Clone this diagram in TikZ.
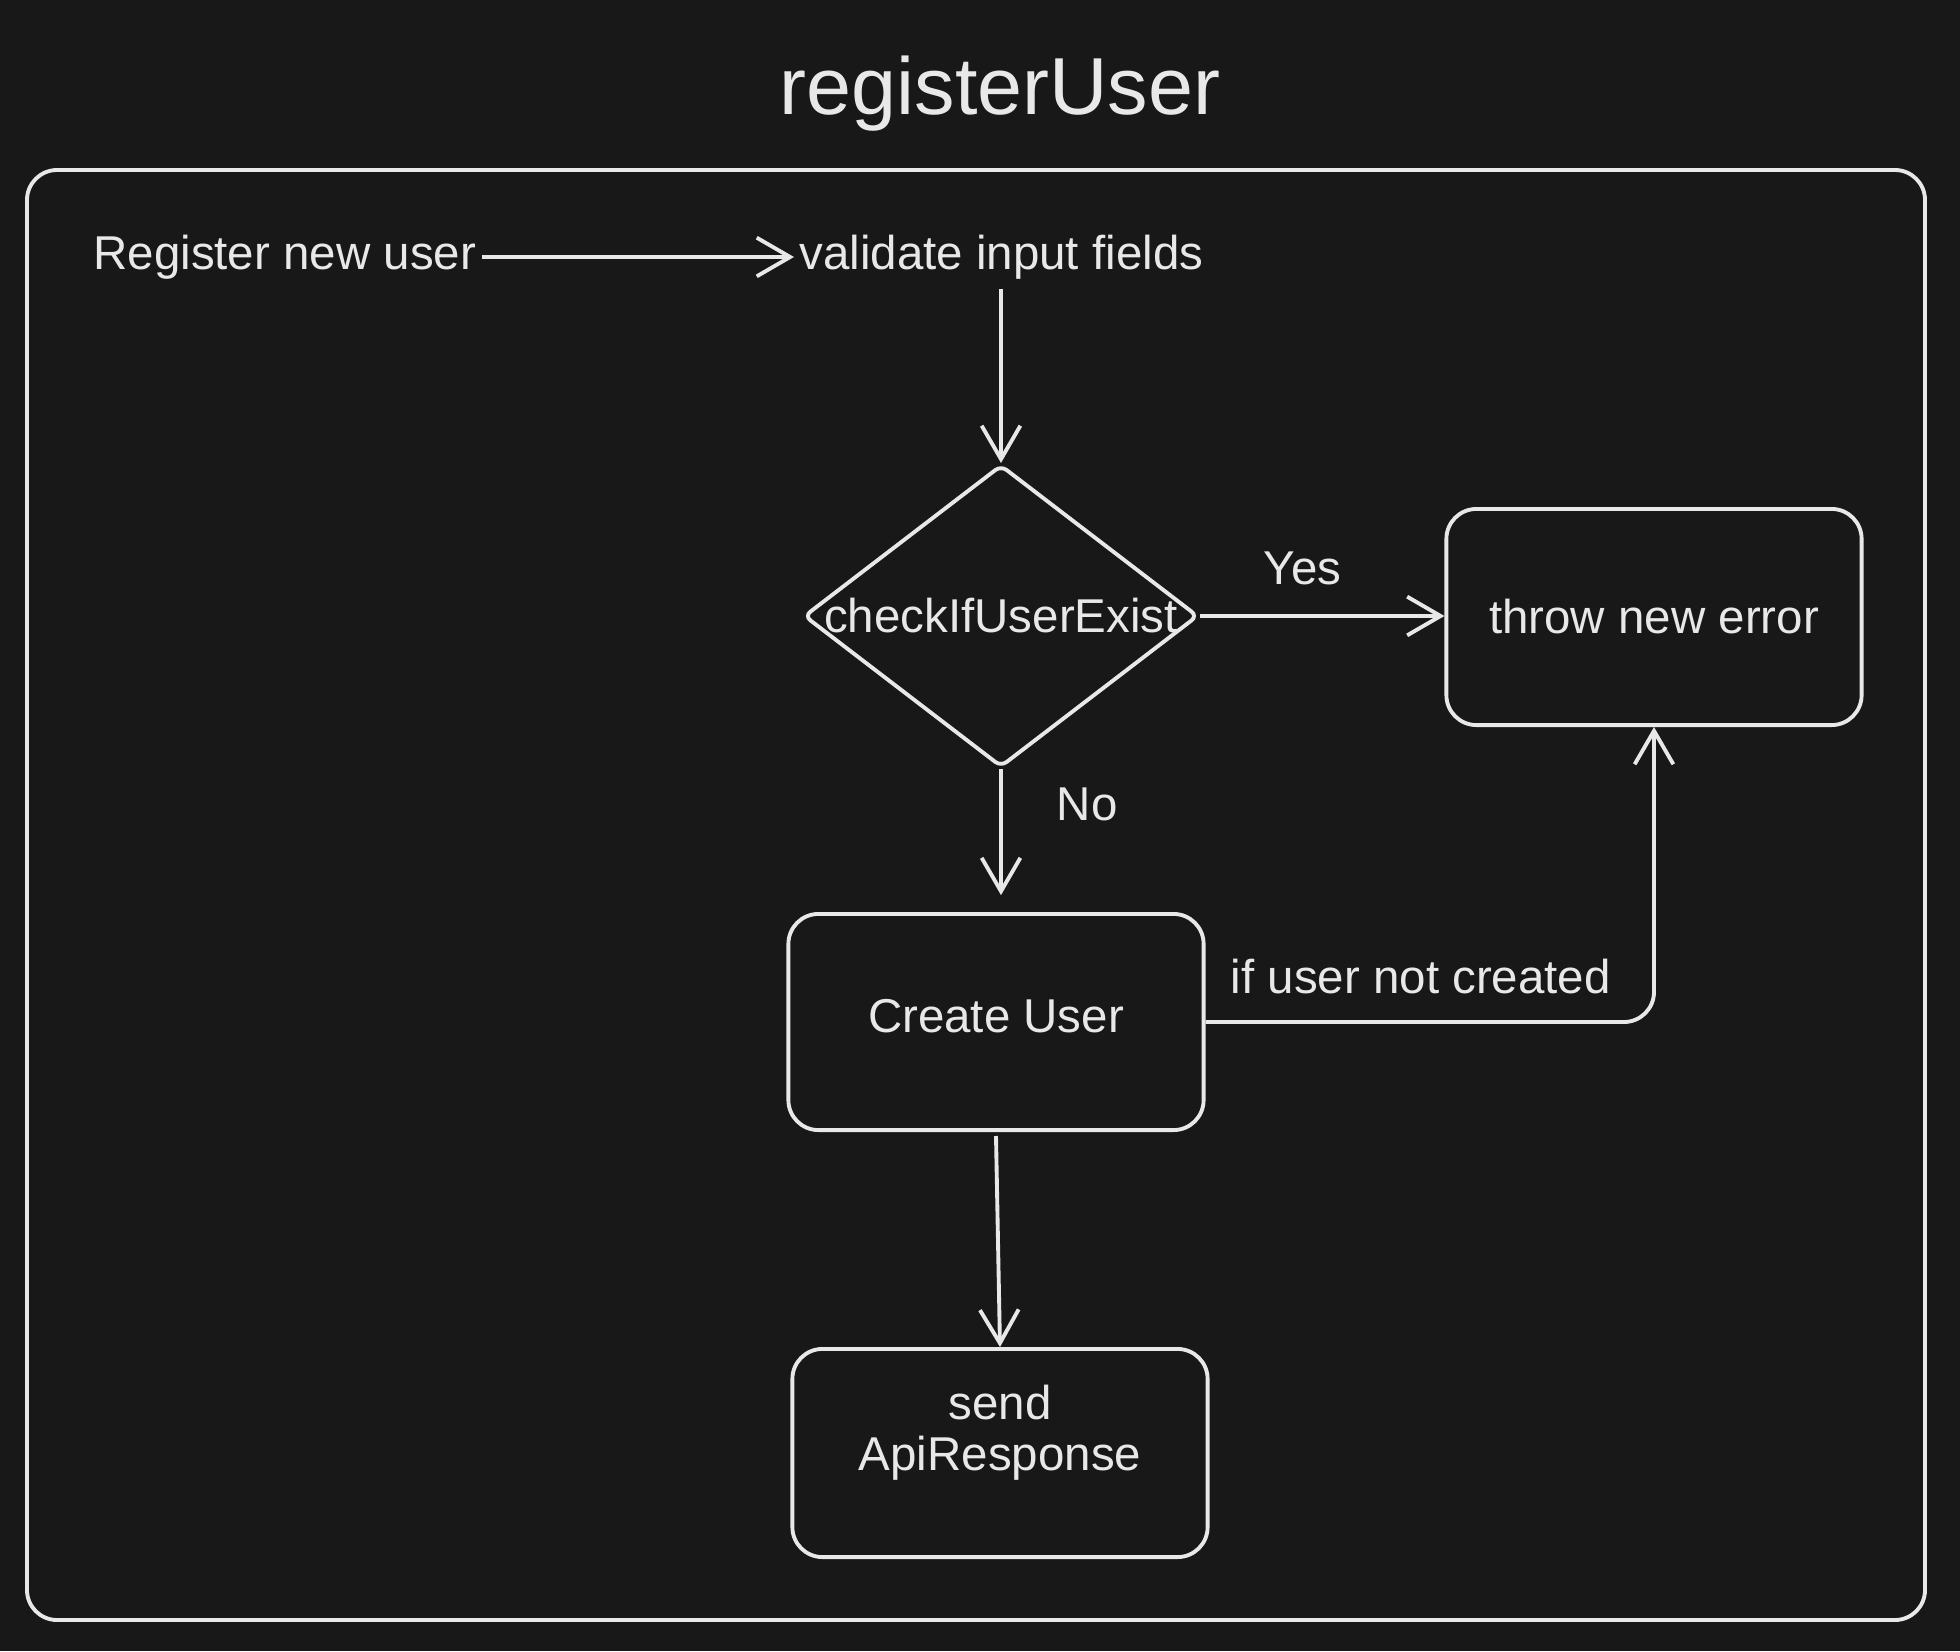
\documentclass[tikz,border=0pt]{standalone}
\usepackage{fontspec}
\setmainfont{Liberation Sans}
\usetikzlibrary{arrows.meta,shapes.geometric}
\definecolor{bgcol}{HTML}{181818}
\definecolor{inkcol}{HTML}{E8E8E8}
\tikzset{
  txt/.style={font=\fontsize{13.5}{14.6}\selectfont, text=inkcol},
  flowbox/.style={draw, rounded corners=0.3cm, minimum width=4.15cm, minimum height=2.16cm, align=center},
  decision/.style={draw, diamond, rounded corners=2pt, minimum width=3.94cm, minimum height=3.02cm, inner sep=0pt},
  flowline/.style={-{Straight Barb[length=9.5pt,width=11pt]}},
}
\begin{document}
\begin{tikzpicture}[x=0.01cm, y=-0.01cm, line width=1.1pt, draw=inkcol, every node/.style={txt}]
  \fill[bgcol] (0,0) rectangle (1960,1651);
  \useasboundingbox (0,0) rectangle (1960,1651);

  \node[font=\fontsize{23}{28}\selectfont] (title) at (1000,94) {registerUser};
  \draw[rounded corners=0.3cm] (27,170) rectangle (1925,1620);

  % start and first step
  \node[anchor=west, inner sep=1pt] (reg) at (88,257) {Register new user};
  \node[anchor=west, inner sep=1pt] (val) at (794,257) {validate input fields};

  % decision and outcomes
  \node[decision, label={center:checkIfUserExist}] (check) at (1001,616) {};
  \node[flowbox] (throw) at (1654,617) {throw new error};
  \node[flowbox, label={[yshift=0.06cm]center:Create User}] (create) at (996,1022) {};
  \node[flowbox, minimum height=2.08cm, label={[align=center, yshift=0.2cm]center:send\\ApiResponse}] (send) at (1000,1453) {};

  \draw[flowline] (reg.east) -- (val.west);
  \draw[flowline] (val.south -| check.north) ++(0,4) -- (check.north);
  \draw[flowline] (check.east) -- node[above=5pt, pos=0.42] {Yes} (check.east -| throw.west);
  \draw[flowline, shorten >=4.8pt] (check.south) -- node[right=12pt, pos=0.25] {No} (create.north -| check.south);
  \draw[flowline, rounded corners=0.3cm] (create.east) -| node[above=4pt, pos=0.24] {if user not created} (throw.south);
  \draw[flowline] (create.south) ++(0,4) -- (send.north);
\end{tikzpicture}
\end{document}
